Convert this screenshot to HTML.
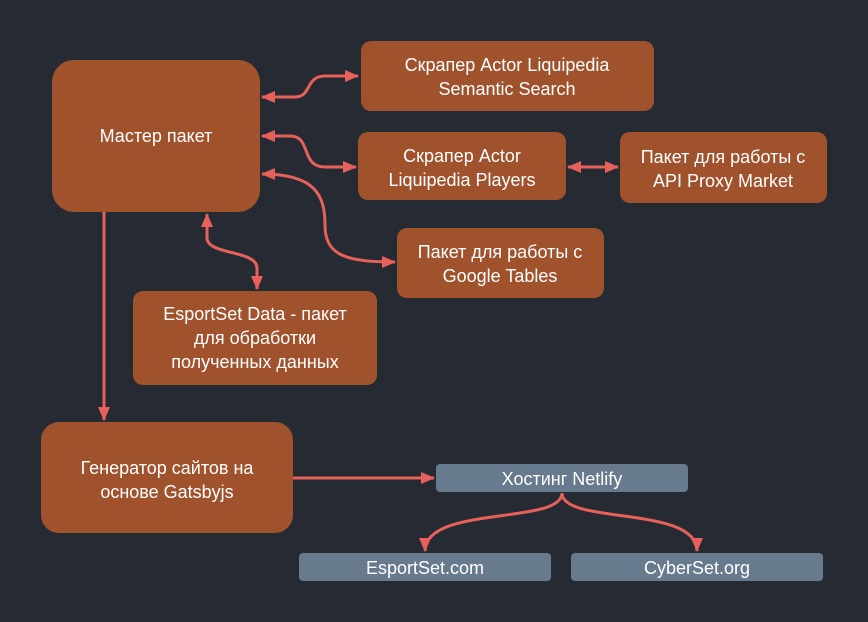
<!DOCTYPE html>
<html><head><meta charset="utf-8"><style>
html,body{margin:0;padding:0;background:#262a33;}
svg{display:block}
text{font-family:"Liberation Sans","DejaVu Sans",sans-serif;font-size:18px;fill:#fff;text-anchor:middle}
</style></head><body>
<svg width="868" height="622" viewBox="0 0 868 622" xmlns="http://www.w3.org/2000/svg">
<defs>
<marker id="a" viewBox="0 0 14 12" refX="13" refY="6" markerWidth="14" markerHeight="12" markerUnits="userSpaceOnUse" orient="auto-start-reverse">
<path d="M0,0 L14,6 L0,12 Z" fill="#e8605a"/></marker>
</defs>
<rect width="868" height="622" fill="#262a33"/>
<g fill="#a0522d">
<rect x="52" y="60" width="208" height="152" rx="22"/>
<rect x="361" y="41" width="293" height="70" rx="10"/>
<rect x="358" y="132" width="208" height="68" rx="10"/>
<rect x="620" y="132" width="207" height="71" rx="10"/>
<rect x="397" y="228" width="207" height="70" rx="10"/>
<rect x="133" y="291" width="244" height="94" rx="10"/>
<rect x="41" y="422" width="252" height="111" rx="18"/>
</g>
<g fill="#677a8e">
<rect x="436" y="464" width="252" height="28" rx="4"/>
<rect x="299" y="553" width="252" height="28" rx="4"/>
<rect x="571" y="553" width="252" height="28" rx="4"/>
</g>
<g fill="none" stroke="#e8605a" stroke-width="3">
<path d="M262,97 L295,97 C312,97 305,76 325,76 L358,76" marker-start="url(#a)" marker-end="url(#a)"/>
<path d="M262,136 L290,136 C312,136 300,167 325,167 L356,167" marker-start="url(#a)" marker-end="url(#a)"/>
<path d="M262,174 C315,174 325,195 325,225 C325,255 345,262 395,262" marker-start="url(#a)" marker-end="url(#a)"/>
<path d="M207,214 L207,238 C207,255 257,250 257,268 L257,289" marker-start="url(#a)" marker-end="url(#a)"/>
<path d="M568,167 L618,167" marker-start="url(#a)" marker-end="url(#a)"/>
<path d="M104,212 L104,420" marker-end="url(#a)"/>
<path d="M293,478 L434,478" marker-end="url(#a)"/>
<path d="M562,493 C562,525 425,505 425,551" marker-end="url(#a)"/>
<path d="M562,493 C562,525 697,505 697,551" marker-end="url(#a)"/>
</g>
<text x="156" y="142">Мастер пакет</text>
<text x="507" y="71">Скрапер Actor Liquipedia</text>
<text x="507" y="95">Semantic Search</text>
<text x="462" y="162">Скрапер Actor</text>
<text x="462" y="186">Liquipedia Players</text>
<text x="723" y="163">Пакет для работы с</text>
<text x="723" y="187">API Proxy Market</text>
<text x="500" y="258">Пакет для работы с</text>
<text x="500" y="282">Google Tables</text>
<text x="255" y="320">EsportSet Data - пакет</text>
<text x="255" y="344">для обработки</text>
<text x="255" y="368">полученных данных</text>
<text x="167" y="474">Генератор сайтов на</text>
<text x="167" y="498">основе Gatsbyjs</text>
<text x="562" y="485">Хостинг Netlify</text>
<text x="425" y="574">EsportSet.com</text>
<text x="697" y="574">CyberSet.org</text>
</svg>
</body></html>
